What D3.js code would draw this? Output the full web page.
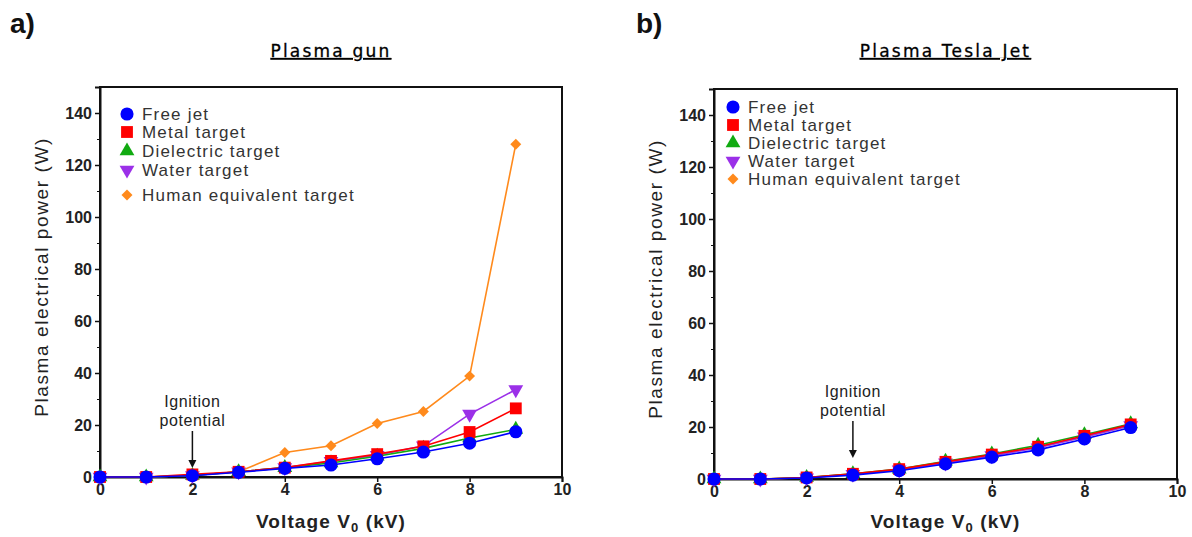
<!DOCTYPE html>
<html>
<head>
<meta charset="utf-8">
<script src="https://cdn.jsdelivr.net/npm/d3@7"></script>
<style>
  html, body { margin: 0; padding: 0; background: #fff; }
  svg { display: block; font-family: Arial, "Liberation Sans", sans-serif; }
</style>
</head>
<body>
<svg id="chart" width="1192" height="537"></svg>
<script>
// Voltage steps (kV)
const voltage = [0, 1, 2, 3, 4, 5, 6, 7, 8, 9];

// Series names, in legend order
const seriesNames = ["Free jet", "Metal target", "Dielectric target", "Water target", "Human equivalent target"];
const seriesColors = ["#0000ff", "#ff0000", "#11aa11", "#9b30e8", "#ff8a1c"];

// Plasma gun: electrical power (W)
const gunFreeJet    = [0, 0, 0.5, 1.8, 3.3, 4.6, 7.0, 9.6, 13.0, 17.4];
const gunMetal      = [0, 0, 1.0, 2.0, 3.6, 6.2, 8.8, 11.8, 17.3, 26.4];
const gunDielectric = [0, 0, 0.6, 2.0, 3.6, 5.4, 8.0, 11.0, 15.0, 18.3];
const gunWater      = [0, 0, 0.6, 2.0, 3.6, 6.0, 8.4, 12.0, 24.2, 33.6];
const gunHuman      = [0, 0, 0.6, 2.0, 9.4, 12.0, 20.6, 25.2, 38.8, 128.0];

// Plasma Tesla Jet: electrical power (W)
const teslaFreeJet    = [0, 0, 0.4, 1.5, 3.2, 5.8, 8.4, 11.2, 15.4, 19.8];
const teslaMetal      = [0, 0, 0.6, 2.0, 3.8, 6.6, 9.4, 12.4, 16.6, 21.0];
const teslaDielectric = [0, 0, 0.6, 2.0, 3.8, 6.8, 9.6, 13.0, 17.0, 21.2];
const teslaWater      = [0, 0, 0.5, 1.8, 3.5, 6.2, 9.0, 12.0, 16.2, 20.6];
const teslaHuman      = [0, 0, 0.5, 1.8, 3.5, 6.3, 9.0, 12.2, 16.2, 20.6];

// Axis ticks
const xTicks = [0, 2, 4, 6, 8, 10];
const yTicks = [0, 20, 40, 60, 80, 100, 120, 140];
const yMinorTicks = [10, 30, 50, 70, 90, 110, 130];

const svg = d3.select("#chart");

// Marker shapes per series (diamond = square turned 45°)
const symbolFor = [
  d3.symbol().type(d3.symbolCircle).size(135),
  d3.symbol().type(d3.symbolSquare).size(140),
  d3.symbol().type(d3.symbolTriangle).size(95),
  d3.symbol().type(d3.symbolTriangle).size(95),
  d3.symbol().type(d3.symbolSquare).size(60)
];
const rotateFor = [0, 0, 0, 180, 45];

function drawPanel(opt) {
  const x = d3.scaleLinear().domain([0, 10]).range([opt.left, opt.right]);
  const y = d3.scaleLinear().domain([0, 150]).range([opt.bottom, opt.top]);
  const g = svg.append("g");

  // frame
  g.append("rect")
    .attr("x", opt.left).attr("y", opt.top)
    .attr("width", opt.right - opt.left).attr("height", opt.bottom - opt.top)
    .attr("fill", "none").attr("stroke", "#111").attr("stroke-width", 2);

  // y axis
  const yAxis = g.append("g").attr("transform", `translate(${opt.left},0)`)
    .call(d3.axisLeft(y).tickValues(yTicks).tickSize(5).tickPadding(3));
  g.append("g").attr("transform", `translate(${opt.left},0)`)
    .call(d3.axisLeft(y).tickValues(yMinorTicks).tickSize(3).tickFormat(""))
    .call(a => a.select(".domain").remove());

  // x axis
  const xAxis = g.append("g").attr("transform", `translate(0,${opt.bottom})`)
    .call(d3.axisBottom(x).tickValues(xTicks).tickSize(5).tickPadding(2));

  [yAxis, xAxis].forEach(a => {
    a.select(".domain").attr("stroke", "#111").attr("stroke-width", 2);
    a.selectAll(".tick line").attr("stroke", "#111").attr("stroke-width", 1.5);
    a.selectAll(".tick text").attr("font-size", 16).attr("font-weight", "bold")
      .attr("fill", "#222").attr("font-family", "Arial, 'Liberation Sans', sans-serif");
  });
  g.selectAll(".tick line").attr("stroke", "#111");

  // panel letter
  g.append("text").attr("x", opt.letterX).attr("y", 33)
    .attr("font-size", 28).attr("font-weight", "bold").attr("fill", "#111")
    .text(opt.letter);

  // title (underlined)
  g.append("text").attr("x", (opt.left + opt.right) / 2).attr("y", 57)
    .attr("text-anchor", "middle").attr("font-size", 17).attr("font-weight", "normal")
    .attr("letter-spacing", 2.2)
    .attr("text-decoration", "underline").attr("fill", "#000")
    .attr("stroke", "#000").attr("stroke-width", 0.3)
    .attr("font-family", "'DejaVu Sans', sans-serif")
    .text(opt.title);

  // axis titles
  g.append("text")
    .attr("transform", `translate(${opt.left - 52},${(opt.top + opt.bottom) / 2 - 5}) rotate(-90)`)
    .attr("text-anchor", "middle").attr("font-size", 19).attr("fill", "#222")
    .attr("letter-spacing", 1.6)
    .text("Plasma electrical power (W)");

  const xl = g.append("text").attr("x", (opt.left + opt.right) / 2).attr("y", 528)
    .attr("text-anchor", "middle").attr("font-size", 19).attr("font-weight", "bold").attr("fill", "#222")
    .attr("letter-spacing", 1.1);
  xl.append("tspan").text("Voltage V");
  xl.append("tspan").attr("font-size", 13).attr("dy", 4).text("0");
  xl.append("tspan").attr("dy", -4).text(" (kV)");

  // ignition annotation
  const ax = x(opt.ignitionV);
  g.append("text").attr("x", ax).attr("y", opt.ignY).attr("text-anchor", "middle")
    .attr("font-size", 16).attr("fill", "#222").attr("letter-spacing", 0.6).text("Ignition");
  g.append("text").attr("x", ax).attr("y", opt.ignY + 19).attr("text-anchor", "middle")
    .attr("font-size", 16).attr("fill", "#222").attr("letter-spacing", 0.6).text("potential");
  g.append("line").attr("x1", ax).attr("x2", ax)
    .attr("y1", opt.ignY + 24).attr("y2", opt.ignY + 56)
    .attr("stroke", "#111").attr("stroke-width", 1.5);
  g.append("path")
    .attr("d", `M${ax - 4},${opt.ignY + 53} L${ax + 4},${opt.ignY + 53} L${ax},${opt.ignY + 61} Z`)
    .attr("fill", "#111");

  // series: draw human first, free jet last (on top)
  const line = d3.line().x((d, i) => x(voltage[i])).y(d => y(d));
  for (let s = opt.series.length - 1; s >= 0; s--) {
    const vals = opt.series[s];
    g.append("path").datum(vals).attr("d", line)
      .attr("fill", "none").attr("stroke", seriesColors[s]).attr("stroke-width", 1.6);
    g.selectAll(null).data(vals).enter().append("path")
      .attr("d", symbolFor[s])
      .attr("transform", (d, i) => `translate(${x(voltage[i])},${y(d)}) rotate(${rotateFor[s]})`)
      .attr("fill", seriesColors[s]);
  }

  // legend
  seriesNames.forEach((name, i) => {
    const ly = opt.legendY[i];
    g.append("path").attr("d", symbolFor[i])
      .attr("transform", `translate(${opt.legendX},${ly}) rotate(${rotateFor[i]})`)
      .attr("fill", seriesColors[i]);
    g.append("text").attr("x", opt.legendX + 15).attr("y", ly + 6)
      .attr("font-size", 17).attr("fill", "#333").attr("letter-spacing", 1.2).text(name);
  });
}

drawPanel({
  letter: "a)", letterX: 10, title: "Plasma gun",
  left: 100, right: 562, top: 87, bottom: 477,
  ignitionV: 2, ignY: 407,
  legendX: 127, legendY: [114, 132, 151, 170, 195],
  series: [gunFreeJet, gunMetal, gunDielectric, gunWater, gunHuman]
});

drawPanel({
  letter: "b)", letterX: 636, title: "Plasma Tesla Jet",
  left: 714, right: 1177, top: 89, bottom: 479,
  ignitionV: 3, ignY: 397,
  legendX: 733, legendY: [107, 125, 143, 161, 179],
  series: [teslaFreeJet, teslaMetal, teslaDielectric, teslaWater, teslaHuman]
});
</script>
</body>
</html>
